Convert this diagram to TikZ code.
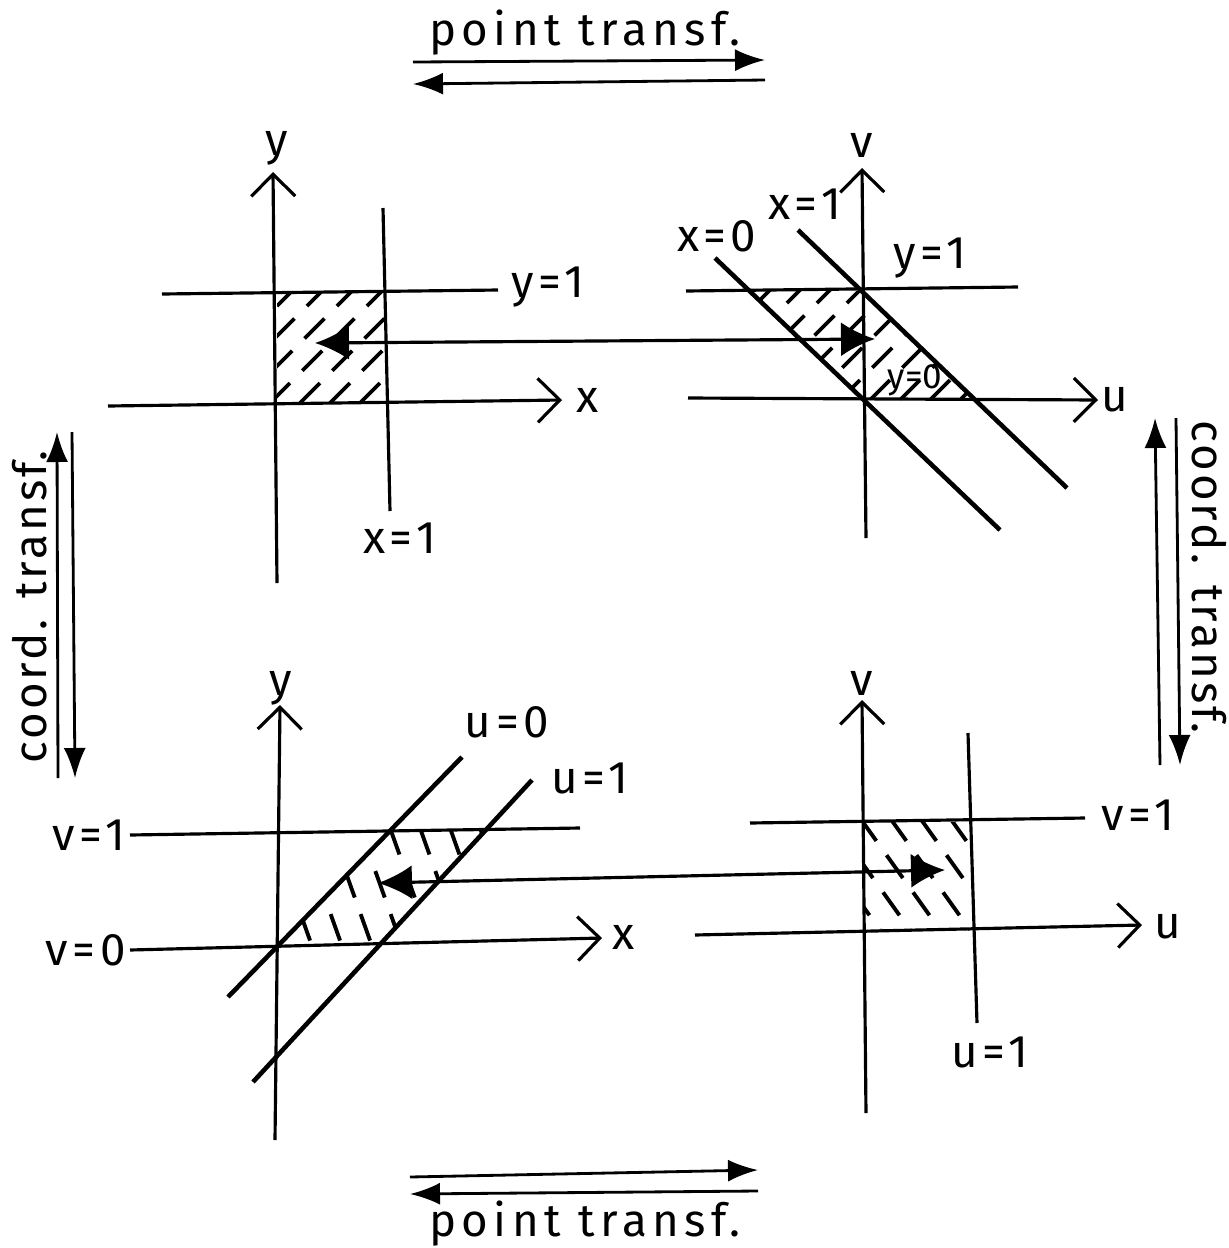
\documentclass[tikz,border=0pt]{standalone}
\usepackage{fontspec}
\setmainfont{Fira Sans}
\usetikzlibrary{arrows.meta}
\tikzset{
  axis/.style  = {line width=0.9pt, -{Straight Barb[length=2.2mm,width=4.4mm]}},
  rule/.style  = {line width=0.9pt},
  slant/.style = {line width=1.3pt},
  hatch/.style = {line width=1.1pt, dash pattern=on 8pt off 5pt},
  flow/.style  = {line width=0.8pt, -{Latex[length=3mm,width=2.2mm]}},
  link/.style  = {line width=0.9pt, {Latex[length=3.4mm,width=3.4mm]}-{Latex[length=3.4mm,width=3.4mm]}},
  lbl/.style   = {font=\fontsize{13}{15}\selectfont\addfontfeatures{LetterSpace=10}, inner sep=1pt},
  small/.style = {font=\fontsize{10}{12}\selectfont, inner sep=1pt},
  caption/.style = {font=\fontsize{13}{15}\selectfont\addfontfeatures{LetterSpace=12}, inner sep=0pt, anchor=base},
  sidecap/.style = {caption, font=\fontsize{13}{15}\selectfont\addfontfeatures{LetterSpace=7}},
}
\begin{document}
\begin{tikzpicture}[x=0.1mm, y=-0.1mm]
  \useasboundingbox (0,0) rectangle (1229,1248);

  % point transformations
  \node[caption] (pt-top) at (585,45) {point transf.};
  \coordinate (pt-a) at (413,62);  \coordinate (pt-b) at (765,60);
  \coordinate (pt-c) at (765,80);  \coordinate (pt-d) at (413,84);
  \draw[flow] (pt-a) -- (pt-b);
  \draw[flow] (pt-c) -- (pt-d);
  \node[caption] (pb-bot) at (585,1236) {point transf.};
  \coordinate (pb-a) at (410,1177); \coordinate (pb-b) at (758,1170);
  \coordinate (pb-c) at (758,1191); \coordinate (pb-d) at (410,1194);
  \draw[flow] (pb-a) -- (pb-b);
  \draw[flow] (pb-c) -- (pb-d);

  % coordinate transformations
  \node[sidecap, rotate=90] (ct-left) at (46,607) {coord. transf.};
  \coordinate (cl-a) at (58,778); \coordinate (cl-b) at (57,432);
  \coordinate (cl-c) at (72,432); \coordinate (cl-d) at (75,778);
  \draw[flow] (cl-a) -- (cl-b);
  \draw[flow] (cl-c) -- (cl-d);
  \node[sidecap, rotate=-90] (ct-right) at (1192,577) {coord. transf.};
  \coordinate (cr-a) at (1160,765); \coordinate (cr-b) at (1155,418);
  \coordinate (cr-c) at (1176,418); \coordinate (cr-d) at (1180,765);
  \draw[flow] (cr-a) -- (cr-b);
  \draw[flow] (cr-c) -- (cr-d);

  % top left: x,y plane
  \begin{scope}
    \clip (277,293) rectangle (386,403);
    \foreach \a in {150,180,...,400}
      \draw[hatch] (\a,403) -- ++(115,-115);
  \end{scope}
  \draw[axis] (277,583) -- (273,172);
  \node[lbl] (tl-y) at (277,148) {y};
  \draw[axis] (108,406) -- (562,400);
  \node[lbl] (tl-x) at (588,400) {x};
  \draw[rule] (162,294) -- (498,290);
  \node[lbl, anchor=west] (tl-y1) at (507,287) {y=1};
  \draw[rule] (383,208) -- (390,511);
  \node[lbl] (tl-x1) at (400,538) {x=1};

  % top right: u,v plane
  \begin{scope}
    \clip (750,291) -- (862,291) -- (975,400) -- (864,400) -- cycle;
    \foreach \a in {660,690,...,990}
      \draw[hatch] (\a,400) -- ++(115,-115);
  \end{scope}
  \draw[axis] (866,538) -- (862,168);
  \node[lbl] (tr-v) at (862,145) {v};
  \draw[axis] (688,398) -- (1098,400);
  \node[lbl] (tr-u) at (1115,400) {u};
  \draw[rule] (686,291) -- (1018,287);
  \node[lbl] (tr-y1) at (930,258) {y=1};
  \draw[slant] (715,258) -- (1000,530);
  \node[lbl] (tr-x0) at (717,236) {x=0};
  \draw[slant] (798,230) -- (1067,488);
  \node[lbl] (tr-x1) at (805,204) {x=1};
  \node[small] (tr-y0) at (915,380) {y=0};

  % bottom left: x,y plane with u,v lines
  \begin{scope}
    \clip (279,945) -- (388,832) -- (486,830) -- (382,942) -- cycle;
    \foreach \a in {240,270,...,520}
      \draw[hatch] (\a,828) -- ++(42,118);
  \end{scope}
  \draw[axis] (275,1140) -- (280,705);
  \node[lbl] (bl-y) at (281,688) {y};
  \draw[axis] (130,950) -- (602,938);
  \node[lbl] (bl-x) at (624,937) {x};
  \node[lbl, anchor=east] (bl-v0) at (130,950) {v=0};
  \draw[rule] (130,835) -- (580,828);
  \node[lbl, anchor=east] (bl-v1) at (130,835) {v=1};
  \draw[slant] (228,997) -- (462,757);
  \node[lbl] (bl-u0) at (507,722) {u=0};
  \draw[slant] (253,1082) -- (532,780);
  \node[lbl, anchor=west] (bl-u1) at (547,778) {u=1};

  % bottom right: u,v plane
  \begin{scope}
    \clip (864,822) rectangle (973,930);
    \foreach \a in {800,830,...,1000}
      \draw[hatch] (\a,818) -- ++(80,112);
  \end{scope}
  \draw[axis] (866,1113) -- (862,700);
  \node[lbl] (br-v) at (862,683) {v};
  \draw[axis] (695,935) -- (1142,925);
  \node[lbl] (br-u) at (1168,927) {u};
  \draw[rule] (750,823) -- (1085,818);
  \node[lbl, anchor=west] (br-v1) at (1097,815) {v=1};
  \draw[rule] (968,733) -- (977,1023);
  \node[lbl] (br-u1) at (990,1052) {u=1};

  % point correspondences
  \coordinate (tl-p) at (315,343); \coordinate (tr-p) at (875,339);
  \draw[link] (tl-p) -- (tr-p);
  \coordinate (bl-p) at (378,883); \coordinate (br-p) at (945,870);
  \draw[link] (bl-p) -- (br-p);
\end{tikzpicture}
\end{document}
